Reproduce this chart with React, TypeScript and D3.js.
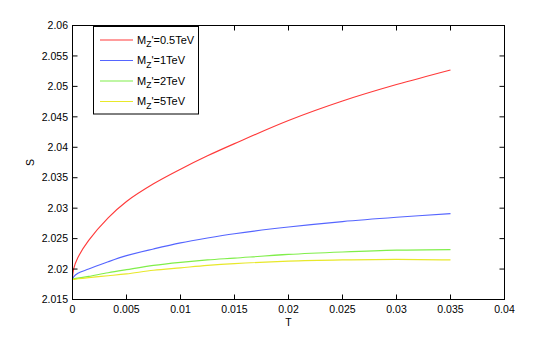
import React from "react";
import * as d3 from "d3";

const T = [0, 0.0001, 0.0005, 0.0015, 0.0033, 0.005, 0.0075, 0.01, 0.0125, 0.015, 0.02, 0.025, 0.03, 0.035];
const S_05 = [2.0183, 2.0200, 2.0219, 2.0247, 2.0284, 2.0311, 2.0340, 2.0364, 2.0386, 2.0406, 2.0444, 2.0476, 2.0503, 2.0527];
const S_1 = [2.0183, 2.0187, 2.0193, 2.0200, 2.0212, 2.0222, 2.0233, 2.0243, 2.0251, 2.0258, 2.0269, 2.0278, 2.0285, 2.0291];
const S_2 = [2.0183, 2.0184, 2.0185, 2.0188, 2.0194, 2.0199, 2.0206, 2.0211, 2.0215, 2.0218, 2.0224, 2.0228, 2.0231, 2.0232];
const S_5 = [2.0183, 2.0183, 2.0184, 2.0186, 2.0189, 2.0192, 2.0198, 2.0202, 2.0206, 2.0209, 2.0213, 2.0215, 2.0216, 2.0215];
const legendSuffix = ["'=0.5TeV", "'=1TeV", "'=2TeV", "'=5TeV"];
const xTicks = [0, 0.005, 0.01, 0.015, 0.02, 0.025, 0.03, 0.035, 0.04];
const yTicks = [2.015, 2.02, 2.025, 2.03, 2.035, 2.04, 2.045, 2.05, 2.055, 2.06];

const series = [S_05, S_1, S_2, S_5];
const colors = ["#ff3a3a", "#5565ff", "#80ee4a", "#e8e82a"];

export default function App() {
  const L = 72.5, R = 504.5, TOP = 25.5, B = 299.5;
  const x = d3.scaleLinear().domain([0, 0.04]).range([L, R]);
  const y = d3.scaleLinear().domain([2.015, 2.06]).range([B, TOP]);
  const line = d3
    .line<number>()
    .x((_, i) => x(T[i]))
    .y((d) => y(d))
    .curve(d3.curveCatmullRom.alpha(0.5));
  const font = "'Liberation Sans', Arial, sans-serif";
  const tl = 5;
  return (
    <svg
      width={557}
      height={337}
      style={{ position: "absolute", left: 0, top: 0, background: "#fff" }}
      fontFamily={font}
    >
      <rect x={0} y={0} width={557} height={337} fill="#fff" />
      {series.map((s, k) => (
        <path key={k} d={line(s) || ""} fill="none" stroke={colors[k]} strokeWidth={1.15} />
      ))}
      <rect x={L} y={TOP} width={R - L} height={B - TOP} fill="none" stroke="#000" strokeWidth={1} />
      {xTicks.map((t) => (
        <g key={"x" + t}>
          <line x1={x(t)} x2={x(t)} y1={B} y2={B - tl} stroke="#000" />
          <line x1={x(t)} x2={x(t)} y1={TOP} y2={TOP + tl} stroke="#000" />
          <text x={x(t)} y={313} fontSize={10.5} textAnchor="middle" fill="#000">
            {String(t)}
          </text>
        </g>
      ))}
      {yTicks.map((t) => (
        <g key={"y" + t}>
          <line x1={L} x2={L + tl} y1={y(t)} y2={y(t)} stroke="#000" />
          <line x1={R} x2={R - tl} y1={y(t)} y2={y(t)} stroke="#000" />
          <text x={68} y={y(t) + 3.7} fontSize={10.5} textAnchor="end" fill="#000">
            {d3.format(".3~f")(t)}
          </text>
        </g>
      ))}
      <text x={(L + R) / 2} y={326} fontSize={10.5} textAnchor="middle">
        T
      </text>
      <text x={0} y={0} fontSize={10.5} textAnchor="middle" transform={`translate(34,${(TOP + B) / 2}) rotate(-90)`}>
        S
      </text>
      <rect x={93.5} y={26.5} width={105} height={87.5} fill="#fff" stroke="#000" strokeWidth={1} />
      {legendSuffix.map((suf, k) => {
        const yy = 40 + k * 20.5;
        return (
          <g key={"l" + k}>
            <line x1={100} x2={133} y1={yy} y2={yy} stroke={colors[k]} strokeWidth={1.15} />
            <text x={137} y={yy + 3.5} fontSize={11} fill="#000">
              M
              <tspan fontSize={8.5} dy={3.5}>Z</tspan>
              <tspan dy={-3.5}>{suf}</tspan>
            </text>
          </g>
        );
      })}
    </svg>
  );
}
